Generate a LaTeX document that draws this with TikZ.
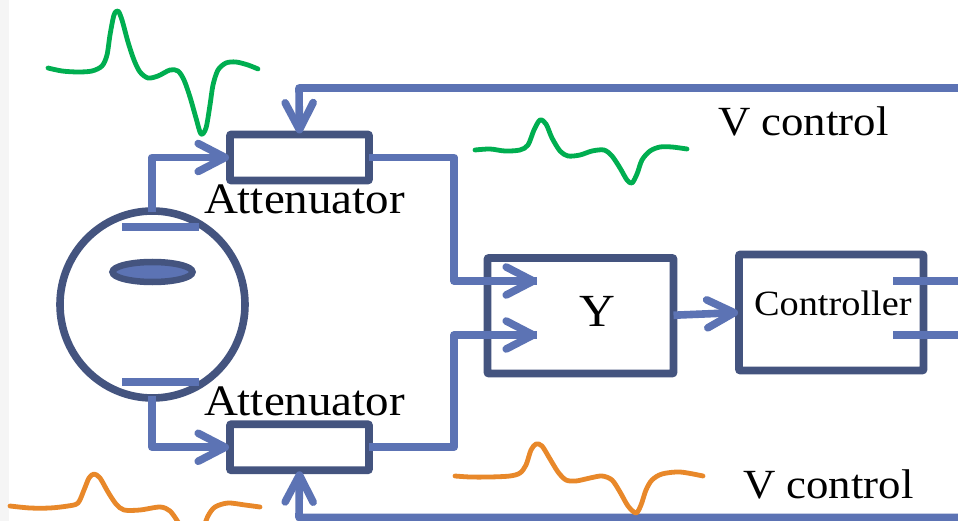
\documentclass[tikz,border=0pt]{standalone}
\usepackage{fontspec}
\setmainfont{Liberation Serif}[FakeStretch=1.08]
\usetikzlibrary{arrows.meta,shapes.geometric}
\definecolor{darkblue}{HTML}{44547F}
\definecolor{wire}{HTML}{5C73B4}
\definecolor{wavegreen}{HTML}{00AE50}
\definecolor{waveorange}{HTML}{E8882A}
\tikzset{
  x=1pt,y=-1pt,
  box/.style={draw=darkblue,line width=7.6pt,rounded corners=0.5pt,inner sep=0pt,outer sep=0pt,line join=round},
  conn/.style={draw=wire,line width=7.6pt,line join=round},
  arr/.style={conn,-{Straight Barb[length=27pt,width=28pt,line width=7.6pt,round]},shorten >=1pt},
  plate/.style={draw=wire,line width=7.6pt},
  wave/.style={line width=4.8pt,line cap=round,line join=round,smooth},
  lbl/.style={anchor=base west,inner sep=0pt,outer sep=0pt,text=black,font=\fontsize{43.5}{50}\selectfont}
}
\begin{document}
\begin{tikzpicture}
\useasboundingbox (0,0) rectangle (958,521);
\clip (0,0) rectangle (958,521);
\fill[white] (0,0) rectangle (958,521);
\fill[black!4] (0,0) rectangle (9,521);

% named nodes
\node[box,ellipse,minimum width=185pt,minimum height=187pt] (tube) at (152.5,304.5) {};
\node[draw=darkblue,fill=wire,line width=6.5pt,ellipse,inner sep=0pt,minimum width=80pt,minimum height=20pt] (lens) at (152.5,272) {};
\node[box,minimum width=139pt,minimum height=46pt] (att1) at (299.5,157.5) {};
\node[box,minimum width=139pt,minimum height=46pt] (att2) at (299.5,447.25) {};
\node[box,minimum width=186pt,minimum height=115.5pt] (ybox) at (580.5,315.75) {};
\node[box,minimum width=184.5pt,minimum height=116pt] (ctrl) at (831.25,312.5) {};

% free ends
\coordinate (tubetop) at (152,212);
\coordinate (tubebot) at (152,396);
\coordinate (yin1) at (537,281);
\coordinate (yin2) at (537,335);
\coordinate (ctrlA) at (893,281);
\coordinate (ctrlB) at (893,335);
\coordinate (edgeA) at (958,281);
\coordinate (edgeB) at (958,335);
\coordinate (vtop) at (958,88);
\coordinate (vbot) at (958,517.5);
\coordinate (p1a) at (122,227);
\coordinate (p1b) at (199,227);
\coordinate (p2a) at (122,382);
\coordinate (p2b) at (199,382);

% plates
\draw[plate] (p1a) -- (p1b);
\draw[plate] (p2a) -- (p2b);

% connectors
\draw[arr] (tubetop) |- (att1.west);
\draw[arr] (tubebot) |- (att2.west);
\draw[conn] (att1.east) -- (454,157.5) -- (454,281) -- (yin1);
\draw[arr,shorten >=0pt] (454,281) -- (yin1);
\draw[conn] (att2.east) -- (454,447.25) -- (454,335) -- (yin2);
\draw[arr,shorten >=0pt] (454,335) -- (yin2);
\draw[arr] (ybox.east) ++(0,-0.5) -- (ctrl.west);
\draw[plate] (ctrlA) -- (edgeA);
\draw[plate] (ctrlB) -- (edgeB);
\draw[arr] (vtop) -- (299,88) -- (att1.north);
\draw[arr] (vbot) -- (299,517.5) -- (att2.south);

% waveforms
\draw[wavegreen,wave] plot coordinates {(48,68)(62,71)(78,72)(92,71)(102,66)(107,55)(110,35)(114,15)(118,11)(122,20)(128,42)(134,60)(140,72)(148,78)(158,76)(170,70)(178,71)(184,80)(190,97)(196,118)(201,134)(206,128)(210,105)(213,85)(218,70)(226,63)(236,62)(248,65)(258,69)};
\draw[wavegreen,wave] plot coordinates {(475,150)(490,149)(505,151)(520,150)(528,145)(534,130)(540,120)(546,124)(552,138)(560,151)(568,156)(580,155)(592,151)(604,150)(612,156)(620,168)(627,180)(632,183)(637,174)(642,160)(650,151)(660,147)(672,147)(687,149)};
\draw[waveorange,wave] plot coordinates {(455,476)(470,477)(490,477)(510,476)(520,473)(526,465)(531,450)(536,444)(542,446)(550,459)(558,472)(566,480)(576,481)(590,478)(602,476)(612,480)(620,492)(628,506)(636,513)(641,505)(646,490)(652,480)(662,474)(680,472)(703,476)};
\draw[waveorange,wave] plot coordinates {(10,506)(30,508)(50,508)(68,506)(78,503)(84,490)(89,478)(94,474)(100,478)(108,492)(116,504)(124,510)(140,510)(160,507)(170,511)(178,522)(184,532)};
\draw[waveorange,wave] plot coordinates {(202,532)(208,516)(215,507)(228,503)(245,505)(260,507)};

% labels
\node[lbl] (t1) at (204,214) {Attenuator};
\node[lbl] (t2) at (204,415) {Attenuator};
\node[lbl,font=\fontsize{46}{52}\selectfont] (t3) at (579,326) {Y};
\node[lbl,font=\fontsize{35.5}{42}\selectfont] (t4) at (754,316) {Controller};
\node[lbl,font=\fontsize{41.5}{48}\selectfont] (t5) at (718,136) {V control};
\node[lbl,font=\fontsize{41.5}{48}\selectfont] (t6) at (743,498) {V control};
\end{tikzpicture}
\end{document}
